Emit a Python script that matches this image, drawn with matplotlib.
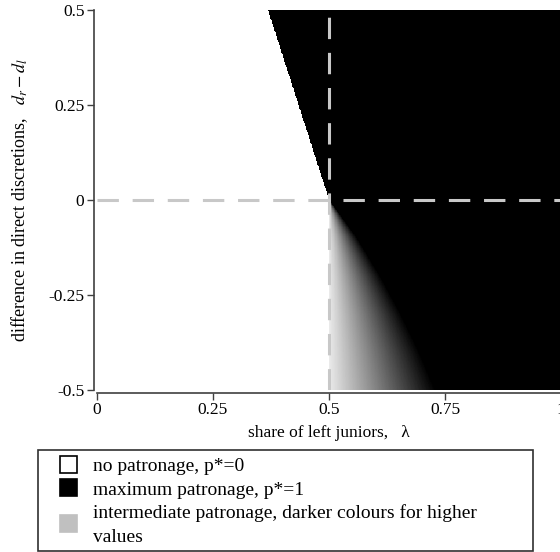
import numpy as np
import matplotlib
matplotlib.use("Agg")
import matplotlib.pyplot as plt
from matplotlib.patches import Rectangle

# Boundary of the maximum-patronage region
d_upper = [0.0, 0.25, 0.5]
lam_upper = [0.5, 0.434, 0.368]          # left edge of black region for d > 0
d_lower = [-0.5, -0.4, -0.3, -0.2, -0.1, 0.0]
lam_black = [0.73, 0.695, 0.655, 0.61, 0.56, 0.5]   # where shading reaches full black for d < 0

x_ticks = [0, 0.25, 0.5, 0.75, 1]
y_ticks = [-0.5, -0.25, 0, 0.25, 0.5]
x_ticklabels = ["0", "0.25", "0.5", "0.75", "1"]
y_ticklabels = ["-0.5", "-0.25", "0", "0.25", "0.5"]
legend_labels = ["no patronage, p*=0", "maximum patronage, p*=1",
                 "intermediate patronage, darker colours for higher\nvalues"]

plt.rcParams['font.family'] = ['Liberation Serif', 'DejaVu Serif']
plt.rcParams['mathtext.fontset'] = 'stix'

W, H = 560, 552
fig = plt.figure(figsize=(W / 100, H / 100), dpi=100)

# compute p* field from boundary arrays
nx, ny = 800, 600
lam = np.linspace(0, 1, nx)
dd = np.linspace(-0.5, 0.5, ny)
L, D = np.meshgrid(lam, dd)
P = np.zeros_like(L)
up = D >= 0
lu = np.interp(D, d_upper, lam_upper)
P[up & (L >= lu)] = 1.0
lb = np.interp(D, d_lower, lam_black)
low = ~up
denom = np.maximum(lb - 0.5, 1e-6)
frac = np.clip((L - 0.5) / denom, 0, 1)
frac = np.where(L >= 0.5, 0.08 + 0.92 * frac, 0.0)
P[low] = frac[low]

ax = fig.add_axes([97 / W, (H - 390) / H, 464 / W, 380.5 / H])
ax.imshow(P, extent=[0, 1, -0.5, 0.5], origin='lower', cmap='gray_r',
          vmin=0, vmax=1, aspect='auto', interpolation='nearest')
ax.set_xlim(0, 1)
ax.set_ylim(-0.5, 0.5)

dash = dict(color='#c8c8c8', lw=2.2, dashes=(7, 4.5))
ax.plot([0, 1], [0, 0], **dash)
ax.plot([0.5, 0.5], [-0.5, 0.5], **dash)

for s in ['top', 'right']:
    ax.spines[s].set_visible(False)
for s in ['left', 'bottom']:
    ax.spines[s].set_color('#404040')
    ax.spines[s].set_linewidth(1.2)
ax.spines['left'].set_position(('outward', 2))
ax.spines['bottom'].set_position(('outward', 2))

ax.set_xticks(x_ticks)
ax.set_xticklabels(x_ticklabels)
ax.set_yticks(y_ticks)
ax.set_yticklabels(y_ticklabels)
ax.tick_params(direction='out', length=5, width=1, color='#404040',
               labelsize=12.5, pad=2)
ax.set_xlabel("share of left juniors,   λ", fontsize=12.5)
ax.set_ylabel(r"difference in direct discretions,   $d_r - d_l$", fontsize=13)
ax.xaxis.set_label_coords(0.5, -(433 - 390) / 380.5, transform=ax.transAxes)
ax.yaxis.set_label_coords(-(97 - 20) / 464, 0.5, transform=ax.transAxes)
ax.xaxis.label.set_va('center')
ax.yaxis.label.set_va('center')

# Legend box
def fx(px):
    return px / W

def fy(py):
    return 1 - py / H

fig.patches.append(Rectangle((fx(38), fy(551)), fx(533) - fx(38), fy(450) - fy(551),
                             transform=fig.transFigure, fill=False,
                             edgecolor='#303030', lw=1.2))
sq = [(60, 456, 'white', 'black'), (60, 479, 'black', 'black'), (60, 515, '#c0c0c0', '#c0c0c0')]
for (x0, y0, fc, ec) in sq:
    fig.patches.append(Rectangle((fx(x0), fy(y0 + 17)), fx(17), 17 / H,
                                 transform=fig.transFigure, facecolor=fc,
                                 edgecolor=ec, lw=1.2))
fs = 14
fig.text(fx(93), fy(471), legend_labels[0], fontsize=fs, va='baseline')
fig.text(fx(93), fy(495), legend_labels[1], fontsize=fs, va='baseline')
l3a, l3b = legend_labels[2].split("\n")
fig.text(fx(93), fy(518), l3a, fontsize=fs, va='baseline')
fig.text(fx(93), fy(542), l3b, fontsize=fs, va='baseline')

fig.savefig("out.png", dpi=100)
